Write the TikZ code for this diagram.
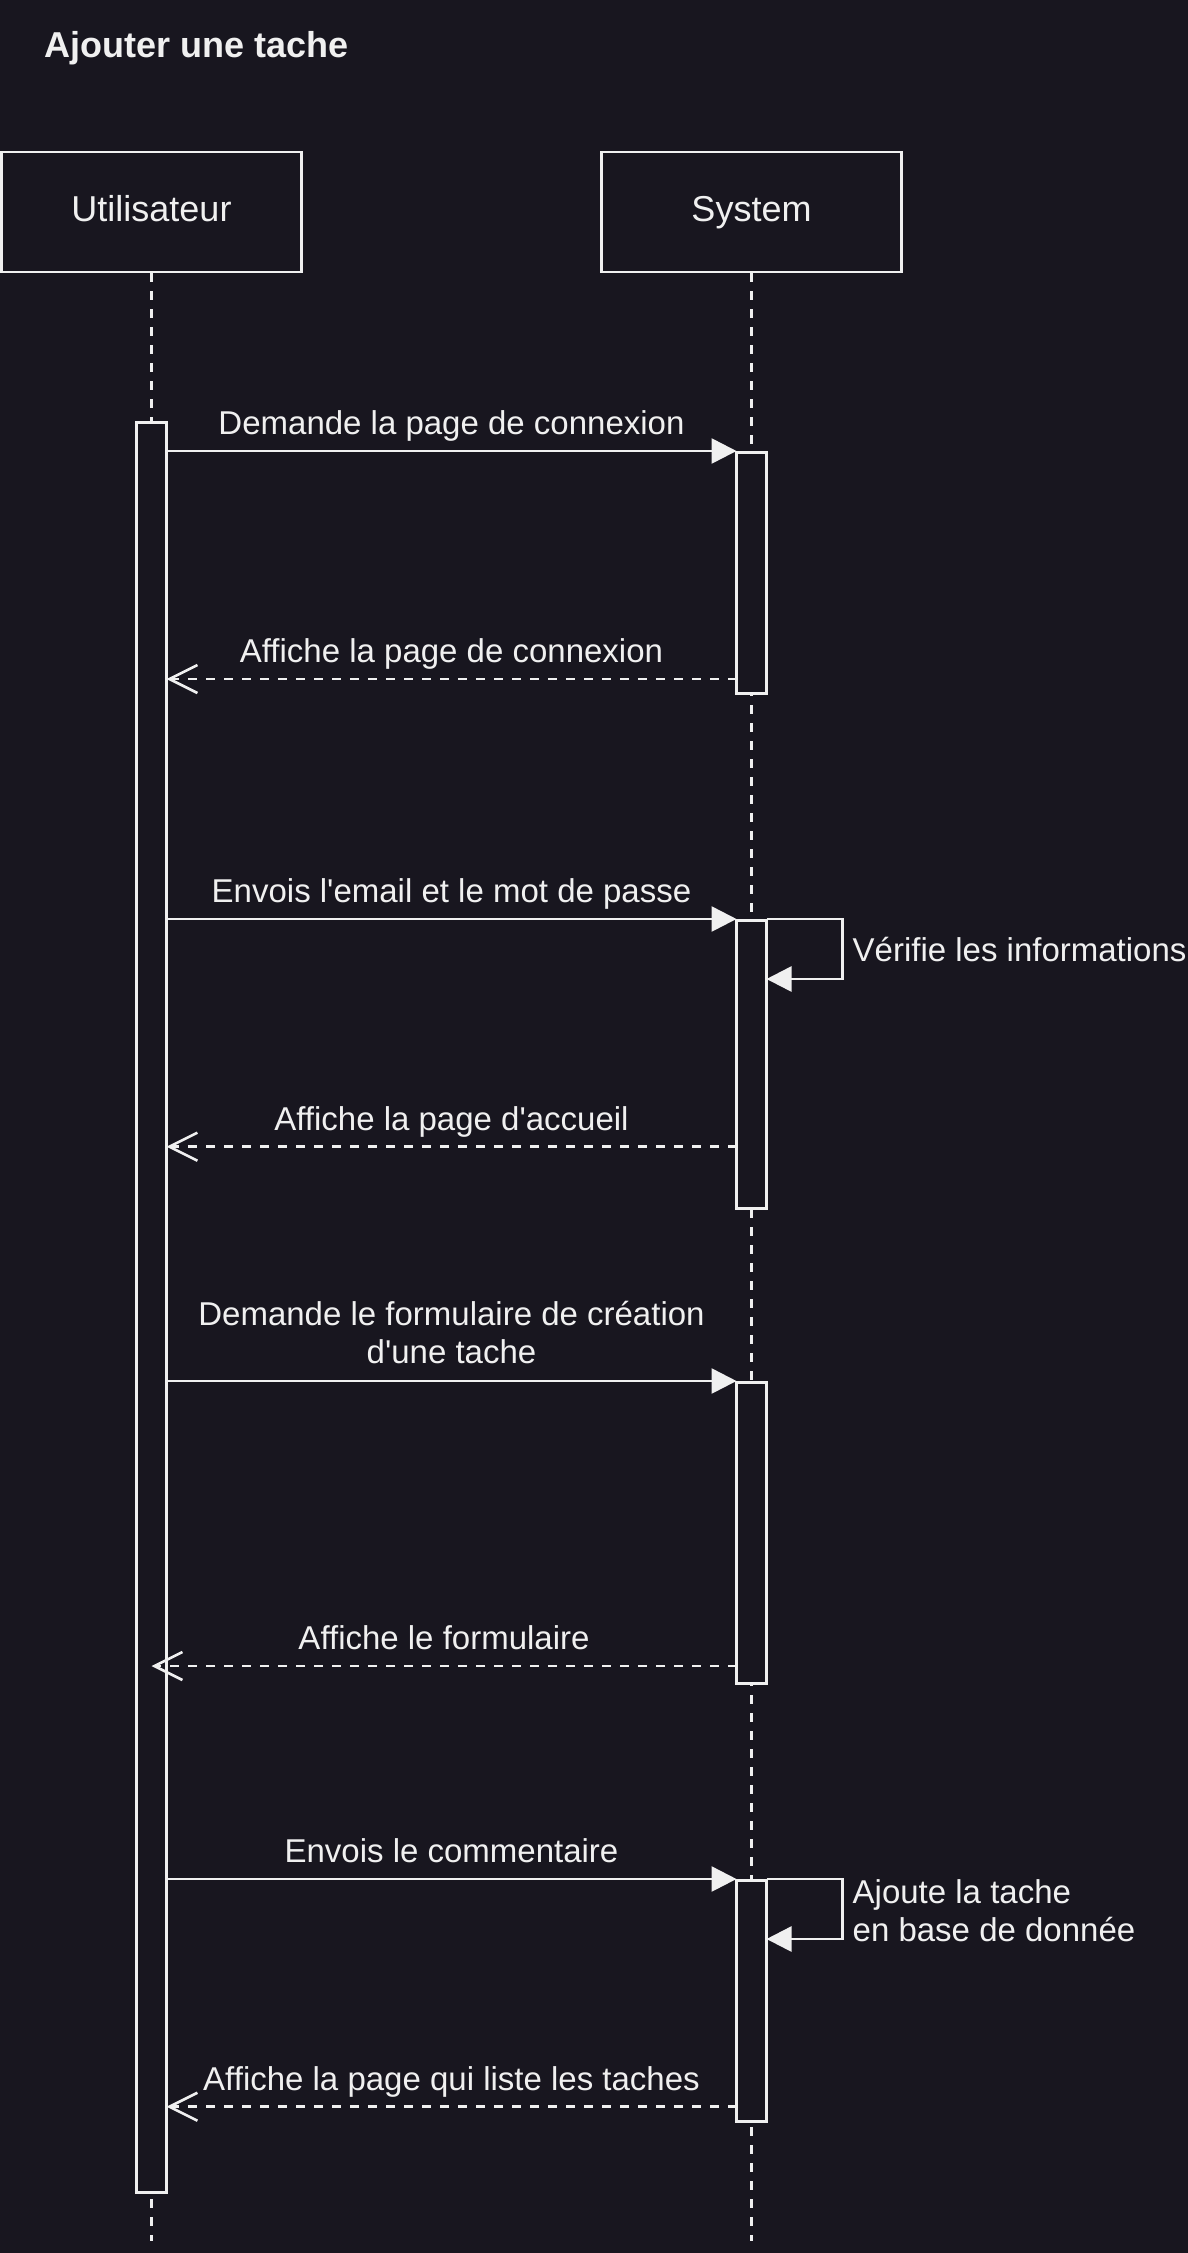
\documentclass[tikz,border=0pt]{standalone}
\usepackage{fontspec}
\setmainfont{Liberation Sans}[Ligatures=TeXOff]
\usetikzlibrary{arrows.meta}
\definecolor{bgc}{HTML}{18161F}
\definecolor{fgc}{HTML}{F0F0F0}
\begin{document}
\begin{tikzpicture}[x=1pt,y=-1pt,
  every node/.style={text=fgc,inner sep=0pt},
  lifebox/.style={draw=fgc,fill=bgc,line width=2.6pt,minimum width=300pt,minimum height=120pt,font=\fontsize{36}{42}\selectfont},
  actbar/.style={draw=fgc,fill=bgc,line width=2.6pt},
  lifeline/.style={draw=fgc,line width=2.6pt,dash pattern=on 9pt off 9pt},
  msgline/.style={draw=fgc,line width=2.6pt,-{Triangle[length=25pt,width=25pt,fill=fgc]}},
  retline/.style={draw=fgc,line width=2.6pt,dash pattern=on 9pt off 9pt,-{Straight Barb[length=28pt,width=28pt]}},
  msglabel/.style={font=\fontsize{33}{38}\selectfont,align=center},
  titlelabel/.style={font=\bfseries\fontsize{36}{42}\selectfont}]
\fill[bgc] (0,0) rectangle (1188,2253);
\useasboundingbox (0,0) rectangle (1188,2253);

\node[titlelabel,anchor=base west] (title) at (44,58) {Ajouter une tache};

% lifelines
\coordinate (uend) at (151.5,2241);
\coordinate (send) at (751.5,2241);
\node[lifebox] (user) at (151.5,212) {};
\node[lifebox] (sys) at (751.5,212) {};
\draw[lifeline] (user.south) -- (uend);
\draw[lifeline] (sys.south) -- (send);
\node[font=\fontsize{36}{42}\selectfont,anchor=base] (userlbl) at (151.5,222) {Utilisateur};
\node[font=\fontsize{36}{42}\selectfont,anchor=base] (syslbl) at (751.5,222) {System};

% activation bars
\node[actbar,minimum width=30pt,minimum height=1770pt,anchor=north] (ua) at (151.5,421) {};
\node[actbar,minimum width=30pt,minimum height=241pt,anchor=north] (sa1) at (751.5,451) {};
\node[actbar,minimum width=30pt,minimum height=288pt,anchor=north] (sa2) at (751.5,919) {};
\node[actbar,minimum width=30pt,minimum height=301pt,anchor=north] (sa3) at (751.5,1381) {};
\node[actbar,minimum width=30pt,minimum height=241pt,anchor=north] (sa4) at (751.5,1879) {};

% message coordinates
\coordinate (m1a) at (166.5,451);   \coordinate (m1b) at (736.5,451);
\coordinate (r1a) at (736.5,679);   \coordinate (r1b) at (166.5,679);
\coordinate (m3a) at (166.5,919);   \coordinate (m3b) at (736.5,919);
\coordinate (r2a) at (736.5,1146.7); \coordinate (r2b) at (166.5,1146.7);
\coordinate (m5a) at (166.5,1381);  \coordinate (m5b) at (736.5,1381);
\coordinate (r3a) at (736.5,1666);  \coordinate (r3b) at (151.5,1666);
\coordinate (m7a) at (166.5,1879);  \coordinate (m7b) at (736.5,1879);
\coordinate (r4a) at (736.5,2106.7); \coordinate (r4b) at (166.5,2106.7);
\coordinate (s1a) at (766.5,919);   \coordinate (s1b) at (766.5,979);
\coordinate (s2a) at (766.5,1879);  \coordinate (s2b) at (766.5,1939);

\draw[msgline] (m1a) -- (m1b);
\draw[retline] (r1a) -- (r1b);
\draw[msgline] (m3a) -- (m3b);
\draw[msgline] (s1a) -- ++(76,0) |- (s1b);
\draw[retline] (r2a) -- (r2b);
\draw[msgline] (m5a) -- (m5b);
\draw[retline] (r3a) -- (r3b);
\draw[msgline] (m7a) -- (m7b);
\draw[msgline] (s2a) -- ++(76,0) |- (s2b);
\draw[retline] (r4a) -- (r4b);

% labels
\node[msglabel,anchor=base] (l1) at (451.5,434) {Demande la page de connexion};
\node[msglabel,anchor=base] (l2) at (451.5,662.5) {Affiche la page de connexion};
\node[msglabel,anchor=base] (l3) at (451.5,902.5) {Envois l'email et le mot de passe};
\node[msglabel,anchor=base west] (l4) at (852.5,961.5) {Vérifie les informations};
\node[msglabel,anchor=base] (l5) at (451.5,1130.5) {Affiche la page d'accueil};
\node[msglabel,anchor=base] (l6) at (451.5,1363) {Demande le formulaire de création\\d'une tache};
\node[msglabel,anchor=base] (l7) at (444,1649.5) {Affiche le formulaire};
\node[msglabel,anchor=base] (l8) at (451.5,1862.5) {Envois le commentaire};
\node[msglabel,align=left,anchor=base west] (l9) at (852.5,1941.5) {Ajoute la tache\\en base de donnée};
\node[msglabel,anchor=base] (l10) at (451.5,2090) {Affiche la page qui liste les taches};
\end{tikzpicture}
\end{document}
